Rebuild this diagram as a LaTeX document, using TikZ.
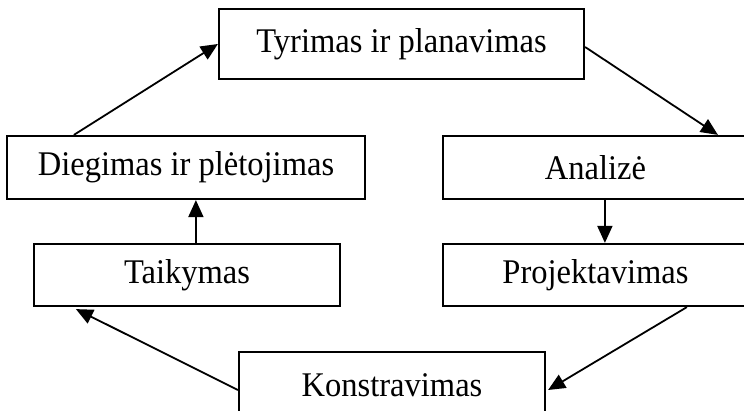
\documentclass[tikz,border=0pt]{standalone}
\usepackage{fontspec}
\setmainfont{Liberation Serif}[FakeStretch=0.94]
\usetikzlibrary{arrows.meta,calc}
\begin{document}
\begin{tikzpicture}[x=0.5pt,y=-0.5pt,
  stagebox/.style={draw,line width=1.1pt,inner sep=0pt,
    font=\fontsize{17.3}{20}\selectfont},
  flow/.style={line width=0.9pt,-{Triangle[length=8.5pt,width=7.5pt]}}]
\useasboundingbox (0,0) rectangle (744,411);
\clip (0,0) rectangle (744,411);

% stages of the cycle
\node[stagebox,minimum width=182.5pt,minimum height=35pt] (top)  at (401.5,44)  {Tyrimas ir planavimas};
\node[stagebox,minimum width=179pt,minimum height=31.5pt] (dieg) at (186,167.5) {Diegimas ir plėtojimas};
\node[stagebox,minimum width=152.5pt,minimum height=31.5pt] (anal) at (595.5,167.5) {Analizė};
\node[stagebox,minimum width=153pt,minimum height=31pt] (taik) at (187,275) {Taikymas};
\node[stagebox,minimum width=152.5pt,minimum height=31pt] (proj) at (595.5,275) {Projektavimas};
\node[stagebox,minimum width=153pt,minimum height=33pt] (kons) at (392,385) {Konstravimas};

% transitions
\draw[flow] ($(dieg.north west)+(68,0)$) -- (top.west);
\draw[flow] ($(top.east)+(0,3)$) -- ($(anal.north west)+(276,0)$);
\draw[flow] ($(anal.south west)+(163,0)$) -- ($(proj.north west)+(163,0)$);
\draw[flow] ($(proj.south west)+(245,0)$) -- ($(kons.east)+(2,5)$);
\draw[flow] ($(kons.west)+(0,5)$) -- ($(taik.south west)+(43,2)$);
\draw[flow] ($(taik.north west)+(163,0)$) -- ($(dieg.south west)+(190,0)$);
\end{tikzpicture}
\end{document}
